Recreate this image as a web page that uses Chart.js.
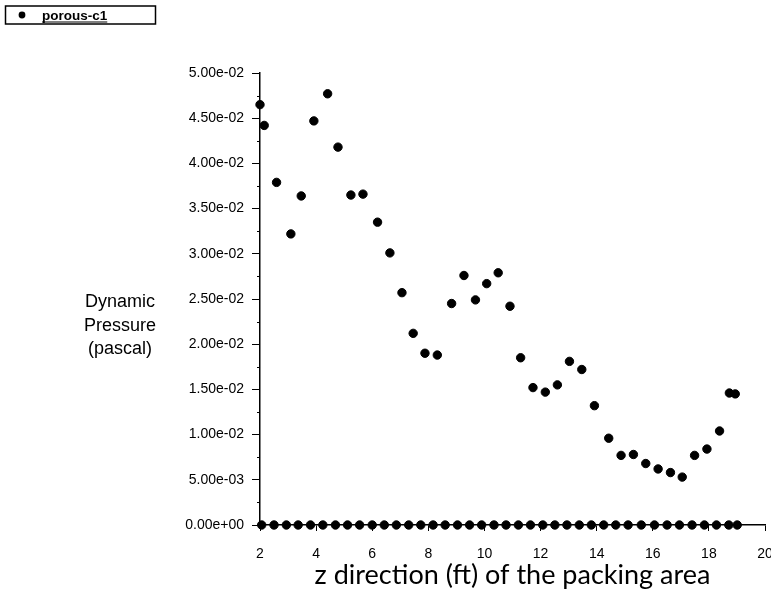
<!DOCTYPE html>
<html>
<head>
<meta charset="utf-8">
<script src="https://cdn.jsdelivr.net/npm/chart.js@4/dist/chart.umd.min.js"></script>
<style>
  html, body { margin: 0; padding: 0; background: #ffffff; }
  #wrap { width: 771px; height: 610px; position: relative; }
</style>
</head>
<body>
<div id="wrap"><canvas id="chart"></canvas></div>
<script>
// Dynamic pressure along the packing height, porous zone c1
const seriesName = 'porous-c1';

// upper set of nodes: z position (ft) and dynamic pressure (Pa)
const zUpper = [
  2.00, 2.15, 2.59, 3.10, 3.47, 3.92, 4.41, 4.78, 5.24, 5.67,
  6.19, 6.63, 7.06, 7.46, 7.88, 8.32, 8.83, 9.27, 9.68, 10.08,
  10.49, 10.91, 11.29, 11.73, 12.17, 12.60, 13.03, 13.47, 13.92, 14.43,
  14.87, 15.31, 15.75, 16.19, 16.63, 17.05, 17.49, 17.93, 18.38, 18.73,
  18.94
];
const pressureUpper = [
  0.0465, 0.0442, 0.0379, 0.0322, 0.0364, 0.0447, 0.0477, 0.0418, 0.0365, 0.0366,
  0.0335, 0.0301, 0.0257, 0.0212, 0.0190, 0.0188, 0.0245, 0.0276, 0.0249, 0.0267,
  0.0279, 0.0242, 0.0185, 0.0152, 0.0147, 0.0155, 0.0181, 0.0172, 0.0132, 0.0096,
  0.0077, 0.0078, 0.0068, 0.0062, 0.0058, 0.0053, 0.0077, 0.0084, 0.0104, 0.0146,
  0.0145
];

// lower set of nodes, lying on the zero line
const zLower = [
  2.06, 2.50, 2.94, 3.36, 3.80, 4.24, 4.69, 5.12, 5.55, 6.00,
  6.43, 6.86, 7.30, 7.73, 8.17, 8.60, 9.04, 9.47, 9.90, 10.34,
  10.77, 11.21, 11.64, 12.08, 12.51, 12.94, 13.38, 13.81, 14.25, 14.68,
  15.12, 15.59, 16.06, 16.51, 16.95, 17.40, 17.84, 18.27, 18.71, 19.01
];
const pressureLower = [
  0, 0, 0, 0, 0, 0, 0, 0, 0, 0,
  0, 0, 0, 0, 0, 0, 0, 0, 0, 0,
  0, 0, 0, 0, 0, 0, 0, 0, 0, 0,
  0, 0, 0, 0, 0, 0, 0, 0, 0, 0
];

// axis ranges and ticks
const xRange = [2, 20];
const xStep = 2;
const yRange = [0, 0.05];
const yStep = 0.005;
const yTitleLines = ['Dynamic', 'Pressure', '(pascal)'];
const xTitle = 'z direction (ft) of the packing area';

function toPoints(xs, ys) {
  return xs.map((x, i) => ({ x: x, y: ys[i] }));
}

// 5.00e-02 style labels (two-digit exponent)
function sciLabel(v) {
  if (Math.abs(v) < 1e-12) return '0.00e+00';
  const s = v.toExponential(2);
  const [mant, exp] = s.split('e');
  const sign = exp[0] === '-' ? '-' : '+';
  const digits = exp.replace(/[+-]/, '').padStart(2, '0');
  return mant + 'e' + sign + digits;
}

const NARROW = '"Liberation Sans Narrow", "Arial Narrow", "Liberation Sans", sans-serif';
const PLAIN = '"Liberation Sans", Arial, sans-serif';

// minor y ticks, legend box and the horizontal y-axis caption
const decorations = {
  id: 'decorations',
  afterDraw(chart) {
    const ctx = chart.ctx;
    const ys = chart.scales.y;
    const area = chart.chartArea;
    ctx.save();
    ctx.strokeStyle = '#000';
    ctx.lineWidth = 1;
    const t = ys.ticks;
    for (let i = 0; i < t.length - 1; i++) {
      const mid = (t[i].value + t[i + 1].value) / 2;
      const py = Math.round(ys.getPixelForValue(mid)) + 0.5;
      ctx.beginPath();
      ctx.moveTo(area.left - 3, py);
      ctx.lineTo(area.left, py);
      ctx.stroke();
    }

    // y caption, three centred lines
    ctx.fillStyle = '#000';
    ctx.font = '18px ' + PLAIN;
    ctx.textAlign = 'center';
    ctx.textBaseline = 'alphabetic';
    yTitleLines.forEach((line, i) => {
      ctx.fillText(line, 120, 307 + i * 23.5);
    });

    // legend box
    ctx.lineWidth = 1.5;
    ctx.strokeRect(5.5, 6, 150, 18);
    ctx.beginPath();
    ctx.arc(22, 15, 3.4, 0, Math.PI * 2);
    ctx.fill();
    ctx.font = 'bold 13.5px ' + PLAIN;
    ctx.textAlign = 'left';
    ctx.fillText(seriesName, 42, 19.5);
    const w = ctx.measureText(seriesName).width;
    ctx.lineWidth = 1.2;
    ctx.beginPath();
    ctx.moveTo(42, 22);
    ctx.lineTo(42 + w, 22);
    ctx.stroke();
    ctx.restore();
  }
};

new Chart(document.getElementById('chart'), {
  type: 'scatter',
  data: {
    datasets: [
      {
        label: seriesName,
        data: toPoints(zUpper, pressureUpper),
        backgroundColor: '#000',
        borderColor: '#000',
        pointRadius: 4.2,
        pointHoverRadius: 4.2,
        clip: false
      },
      {
        label: seriesName,
        data: toPoints(zLower, pressureLower),
        backgroundColor: '#000',
        borderColor: '#000',
        pointRadius: 4.2,
        pointHoverRadius: 4.2,
        clip: false
      }
    ]
  },
  options: {
    responsive: true,
    maintainAspectRatio: false,
    animation: false,
    events: [],
    layout: { padding: { left: 0, right: 6, top: 73, bottom: 12 } },
    plugins: {
      legend: { display: false },
      tooltip: { enabled: false }
    },
    scales: {
      x: {
        type: 'linear',
        min: xRange[0],
        max: xRange[1],
        afterFit(scale) {
          scale.height = 73;
          scale.paddingLeft = 0;
          scale.paddingRight = 6;
        },
        ticks: {
          stepSize: xStep,
          padding: 15,
          maxRotation: 0,
          color: '#000',
          font: { family: NARROW, size: 14 }
        },
        grid: {
          drawOnChartArea: false,
          drawTicks: true,
          tickLength: 6,
          color: '#000'
        },
        border: { display: true, color: '#000', width: 1.5 },
        title: {
          display: true,
          text: xTitle,
          color: '#000',
          font: { family: 'Lato, "Open Sans", sans-serif', size: 27 },
          padding: { top: 0, bottom: 7 }
        }
      },
      y: {
        type: 'linear',
        min: yRange[0],
        max: yRange[1],
        afterFit(scale) { scale.width = 260; },
        ticks: {
          stepSize: yStep,
          padding: 8,
          color: '#000',
          font: { family: NARROW, size: 14 },
          callback: (v) => sciLabel(v)
        },
        grid: {
          drawOnChartArea: false,
          drawTicks: true,
          tickLength: 8,
          color: '#000'
        },
        border: { display: true, color: '#000', width: 1.5 }
      }
    }
  },
  plugins: [decorations]
});
</script>
</body>
</html>
